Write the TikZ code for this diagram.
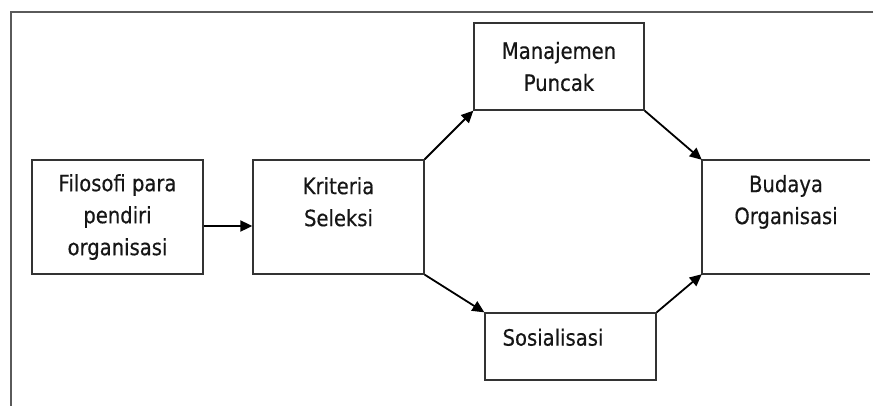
\documentclass[tikz,border=0pt]{standalone}
\usepackage{fontspec}
\setmainfont{DejaVu Sans}[FakeStretch=0.87, FakeBold=0.4]
\usetikzlibrary{arrows.meta, positioning}
\definecolor{lineDark}{HTML}{333333}
\definecolor{frameGray}{HTML}{5A5A5A}
\definecolor{textDark}{HTML}{161616}
\tikzset{
  arrowK/.style={-{Triangle[length=12pt, width=11pt]}, black, line width=1.8pt},
  boxW/.style={rectangle, draw=lineDark, line width=1.3pt, fill=white,
               align=center, text=textDark, inner sep=0pt},
  boxOpen/.style={rectangle, inner sep=0pt},
  txtW/.style={align=center, text=textDark, inner sep=0pt},
}

\begin{document}
\begin{tikzpicture}[x=1pt, y=-1pt, font=\fontsize{22.5}{32}\selectfont]
    \useasboundingbox (0,0) rectangle (874,406);
    \draw[frameGray, line width=2pt] (873,12.5) -- (11,12.5) -- (11,406);
    \node[boxW, minimum width=171pt, minimum height=114pt] (filo) at (117.5,217) {Filosofi para\\pendiri\\organisasi};
    \node[boxW, minimum width=171pt, minimum height=114pt] (krit) at (338.5,217) {};
    \node[txtW, below=17.5pt of krit.north] (kritT) {Kriteria\\Seleksi};
    \node[boxW, minimum width=170pt, minimum height=87pt] (mp) at (559,66.5) {Manajemen\\Puncak};
    \node[boxW, minimum width=171pt, minimum height=67pt] (sos) at (570.5,346.5) {};
    \node[txtW, below=16pt of sos.north, xshift=-17.5pt] (sosT) {Sosialisasi};
    \node[boxOpen, minimum width=168pt, minimum height=114pt] (bud) at (786,217) {};
    \draw[lineDark, line width=1.5pt] (bud.north east) -- (bud.north west) -- (bud.south west) -- (bud.south east);
    \node[txtW, below=15pt of bud.north] (budT) {Budaya\\Organisasi};
    % arrows
    \draw[arrowK] ([yshift=-9pt]filo.east) -- ([yshift=-9pt]krit.west);
    \draw[arrowK] (krit.north east) -- (mp.south west);
    \draw[arrowK] (mp.south east) -- (bud.north west);
    \draw[arrowK] (krit.south east) -- (sos.north west);
    \draw[arrowK] (sos.north east) -- (bud.south west);
\end{tikzpicture}
\end{document}
